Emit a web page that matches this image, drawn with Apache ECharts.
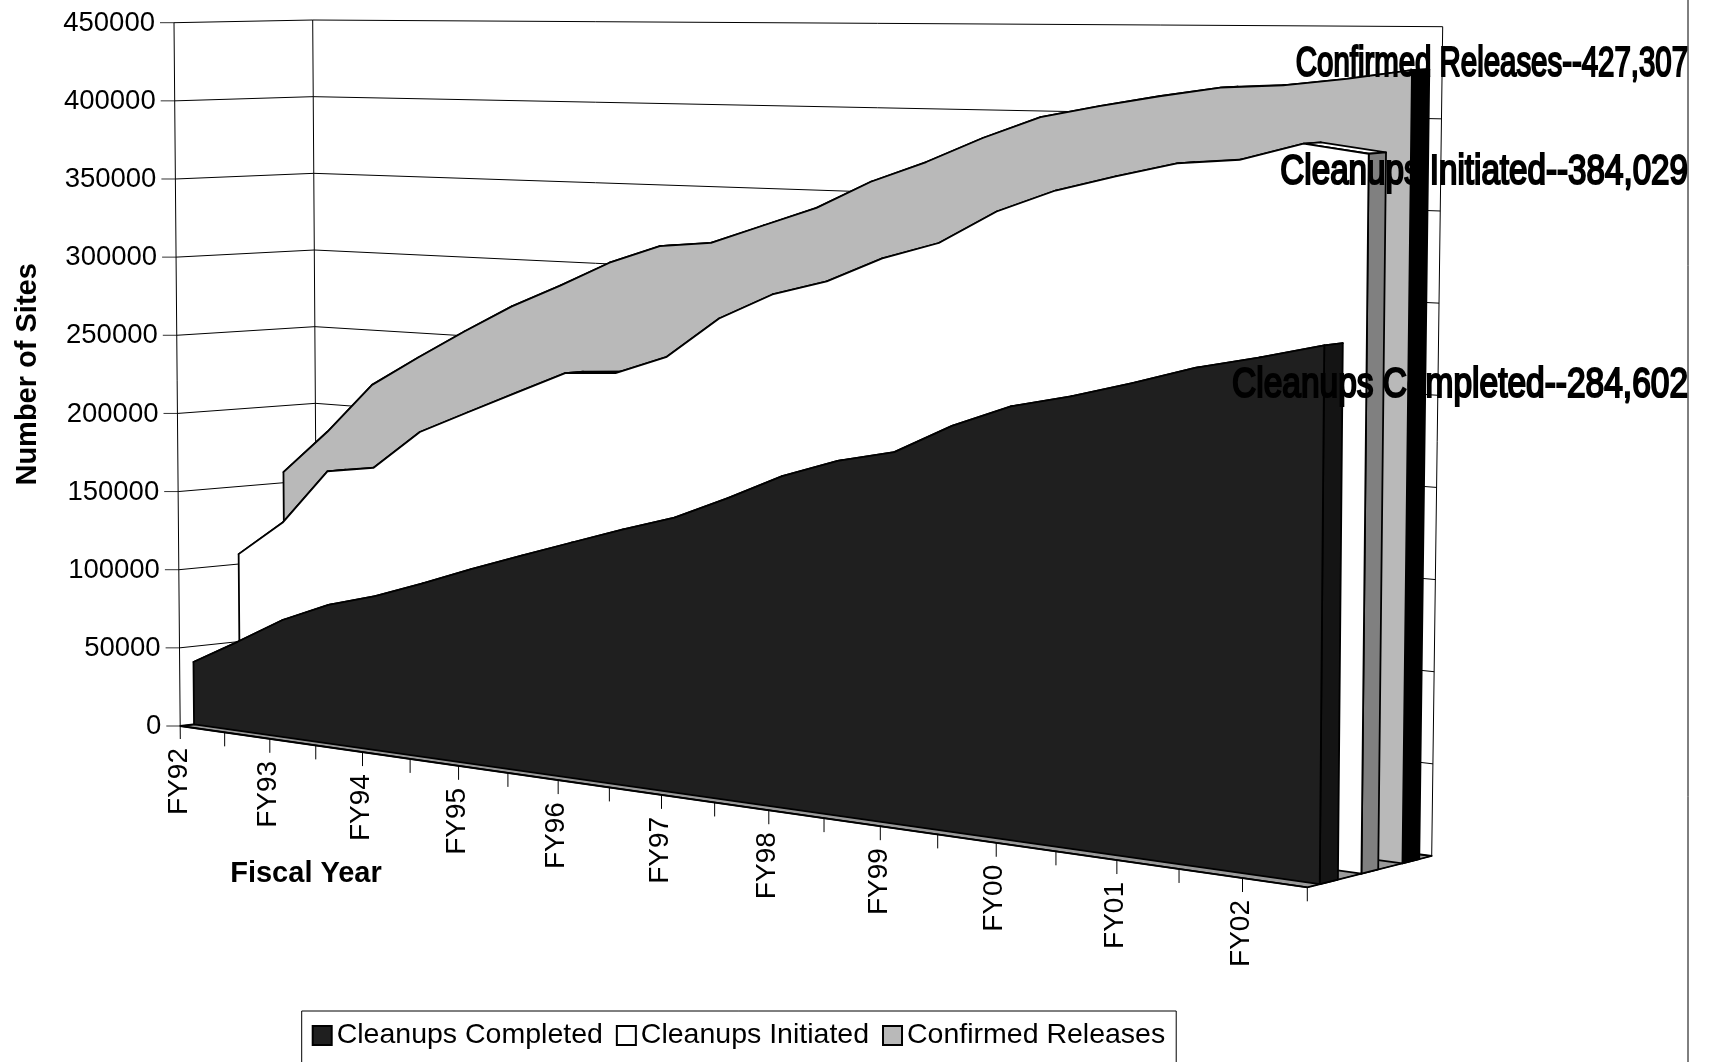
<!DOCTYPE html>
<html><head><meta charset="utf-8">
<style>html,body{margin:0;padding:0;background:#fff}#c{width:1711px;height:1062px}</style>
<script src="https://cdn.jsdelivr.net/npm/echarts@6/dist/echarts.min.js"></script>
</head><body><div id="c"></div>
<script>
const categories = ['FY92','','FY93','','FY94','','FY95','','FY96','','FY97','','FY98','','FY99','','FY00','','FY01','','FY02',''];
const cleanupsCompleted = [40000,56500,73800,86700,95500,106700,118600,129700,140700,151500,161500,175800,191300,202700,210200,227500,240800,248600,258000,268400,276000,284602];
const cleanupsInitiated = [106400,129600,165000,169700,194700,209200,223500,237700,239800,251600,276300,292200,301500,316300,326600,345800,358800,367800,376000,378800,388600,384029];
const confirmedReleases = [156900,185400,217700,237000,255400,272900,287400,303000,314500,317900,329600,341300,357800,370300,385100,397800,404700,410900,416300,418100,422200,427307];
const yTicks = [0,50000,100000,150000,200000,250000,300000,350000,400000,450000];

const FONT = '"Liberation Sans", Arial, sans-serif';
const gridBox = {left:180.3, top:22.7, width:1127, height:703.3};
const FB0=[180.3,726],FT0=[174,22.7],FB1=[1307.3,887.3],FT1=[1314,32.7];
const BB0=[317.5,710],BT0=[312.7,20],BB1=[1431.7,856],BT1=[1442.7,26.7];
const K=1.22;
const lerp=(a,b,t)=>[a[0]+(b[0]-a[0])*t,a[1]+(b[1]-a[1])*t];
function project(pt,w){
  const a=(pt[0]-gridBox.left)/gridBox.width;
  const b=(gridBox.top+gridBox.height-pt[1])/gridBox.height;
  const s=a/(a+K*(1-a));
  const f=lerp(lerp(FB0,FB1,s),lerp(FT0,FT1,s),b);
  const r=lerp(lerp(BB0,BB1,s),lerp(BT0,BT1,s),b);
  return lerp(f,r,w);
}
const lastIdx=categories.length-1;
const line=(p,q,c,wd)=>({type:'line',shape:{x1:p[0],y1:p[1],x2:q[0],y2:q[1]},style:{stroke:c||'#000',lineWidth:wd||1},silent:true});
const poly=(pts,fill,stroke)=>({type:'polygon',shape:{points:pts},style:{fill:fill,stroke:stroke||'#000',lineWidth:1.8,lineJoin:'round'},silent:true});

function wallsItem(params,api){
  if(params.dataIndex!==0) return;
  const kids=[];
  const C=(i,v)=>api.coord([i,v]);
  kids.push(poly([project(C(0,0),0),project(C(lastIdx,0),0),project(C(lastIdx,0),1),project(C(0,0),1)],'#9a9a9a','#000'));
  yTicks.forEach(v=>{
    const p=project(C(0,v),0);
    kids.push(line(p,project(C(0,v),1)));
    kids.push(line(project(C(0,v),1),project(C(lastIdx,v),1)));
    kids.push(line([p[0]-14,p[1]],p,'#333'));
    kids.push({type:'text',x:p[0]-19,y:p[1]+0.5,silent:true,
      style:{text:String(v),align:'right',verticalAlign:'middle',fill:'#000',font:'27.5px '+FONT}});
  });
  const ymax=yTicks[yTicks.length-1];
  const e0=project(C(0,0),0);
  kids.push(line([e0[0],e0[1]+13],project(C(0,ymax),0)));
  kids.push(line(project(C(0,0),1),project(C(0,ymax),1)));
  kids.push(line(project(C(lastIdx,0),1),project(C(lastIdx,ymax),1)));
  kids.push(line(project(C(lastIdx,0),0),project(C(lastIdx,0),1)));
  kids.push(line(project(C(0,0),0),project(C(lastIdx,0),0),'#000',1.6));
  categories.forEach((c,i)=>{
    const p=project(C(i,0),0);
    if(i>0) kids.push(line(p,[p[0],p[1]+14]));
    if(c) kids.push({type:'text',x:p[0]-1.5,y:p[1]+22,rotation:Math.PI/2,silent:true,
      style:{text:c,align:'right',verticalAlign:'middle',fill:'#000',font:'28px '+FONT}});
  });
  return {type:'group',children:kids};
}
function planeItem(values,w0,w1,fill,endFill){
  return function(params,api){
    if(params.dataIndex!==0) return;
    const kids=[];
    const top0=values.map((v,i)=>project(api.coord([i,v]),w0));
    const top1=values.map((v,i)=>project(api.coord([i,v]),w1));
    const bot0=values.map((v,i)=>project(api.coord([i,0]),w0));
    const bot1=values.map((v,i)=>project(api.coord([i,0]),w1));
    for(let i=0;i<lastIdx;i++) kids.push(poly([top0[i],top0[i+1],top1[i+1],top1[i]],fill));
    kids.push(poly([top0[lastIdx],top1[lastIdx],bot1[lastIdx],bot0[lastIdx]],endFill));
    kids.push(poly(top0.concat([bot0[lastIdx],bot0[0]]),fill));
    return {type:'group',children:kids};
  };
}
function endLabelItem(params,api){
  if(params.dataIndex!==0) return;
  const rows=[['Confirmed Releases',confirmedReleases,64.5,.70],['Cleanups Initiated',cleanupsInitiated,172.5,.79],['Cleanups Completed',cleanupsCompleted,385,.797]];
  return {type:'group',children:rows.map(r=>({type:'text',x:1688,y:r[2],scaleX:r[3],silent:true,
    style:{text:r[0]+'--'+r[1][lastIdx].toLocaleString('en-US'),align:'right',verticalAlign:'middle',
      fill:'#000',stroke:'#000',lineWidth:2.2,font:'42px '+FONT}}))};
}
const rows=v=>v.map((y,i)=>[i,y]);
const chart=echarts.init(document.getElementById('c'),null,{renderer:'canvas'});
chart.setOption({
  animation:false,backgroundColor:'#fff',
  grid:{left:gridBox.left,top:gridBox.top,width:gridBox.width,height:gridBox.height,containLabel:false},
  xAxis:{type:'category',data:categories,boundaryGap:false,show:false},
  yAxis:{type:'value',min:0,max:450000,interval:50000,
    name:'Number of Sites',nameLocation:'middle',nameGap:138,nameRotate:90,
    nameTextStyle:{fontFamily:FONT,fontWeight:'bold',fontSize:29,color:'#000'},
    axisLine:{show:false},axisTick:{show:false},splitLine:{show:false},axisLabel:{show:false}},
  legend:{left:301.7,top:1011,orient:'horizontal',selectedMode:false,
    data:['Cleanups Completed','Cleanups Initiated','Confirmed Releases'],
    icon:'rect',itemWidth:19,itemHeight:19,itemGap:13,padding:[10,11,40,10],
    borderColor:'#000',borderWidth:1,backgroundColor:'#fff',
    textStyle:{fontFamily:FONT,fontSize:28.5,color:'#000'}},
  graphic:[
    {type:'line',shape:{x1:1688,y1:0,x2:1688,y2:1062},style:{stroke:'#000',lineWidth:1}},
    {type:'text',x:306,y:874,style:{text:'Fiscal Year',align:'center',verticalAlign:'middle',fill:'#000',font:'bold 29px '+FONT}}
  ],
  series:[
    {type:'custom',name:'walls',coordinateSystem:'cartesian2d',data:rows(cleanupsCompleted),renderItem:wallsItem,silent:true},
    {type:'custom',name:'Confirmed Releases',coordinateSystem:'cartesian2d',data:rows(confirmedReleases),itemStyle:{color:'#b9b9b9',borderColor:'#000',borderWidth:1},renderItem:planeItem(confirmedReleases,.765,.90,'#b9b9b9','#000'),silent:true},
    {type:'custom',name:'Cleanups Initiated',coordinateSystem:'cartesian2d',data:rows(cleanupsInitiated),itemStyle:{color:'#fff',borderColor:'#000',borderWidth:1},renderItem:planeItem(cleanupsInitiated,.435,.57,'#fff','#808080'),silent:true},
    {type:'custom',name:'Cleanups Completed',coordinateSystem:'cartesian2d',data:rows(cleanupsCompleted),itemStyle:{color:'#1f1f1f',borderColor:'#000',borderWidth:1},renderItem:planeItem(cleanupsCompleted,.10,.246,'#1f1f1f','#141414'),silent:true},
    {type:'custom',name:'labels',coordinateSystem:'cartesian2d',data:rows(cleanupsCompleted),renderItem:endLabelItem,silent:true}
  ]
});
</script></body></html>
